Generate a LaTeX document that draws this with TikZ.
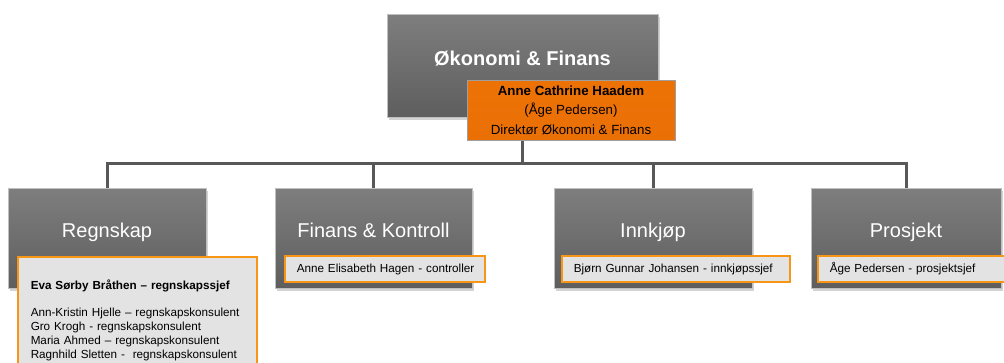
\documentclass[tikz,border=0pt]{standalone}
\usepackage{fontspec}
\setmainfont{Liberation Sans}
\usepackage{tikz}
\usetikzlibrary{positioning,shadows,backgrounds}
\definecolor{unittop}{RGB}{126,126,126}
\definecolor{unitbot}{RGB}{94,94,94}
\definecolor{dirorange}{RGB}{234,112,6}
\definecolor{infofill}{RGB}{227,227,227}
\definecolor{infoedge}{RGB}{246,150,20}
\definecolor{linkgray}{RGB}{88,88,88}

\begin{document}
\begin{tikzpicture}[x=1pt, y=-1pt,
    unit/.style={rectangle, draw=gray!50, line width=0.8pt, top color=unittop, bottom color=unitbot,
        drop shadow={shadow xshift=2pt, shadow yshift=-3pt, opacity=.35},
        text=white, inner sep=0pt, minimum width=198pt, minimum height=100pt,
        font=\fontsize{20}{24}\selectfont, text height=14pt, text depth=16pt},
    head/.style={unit, minimum width=271pt, minimum height=103pt,
        font=\fontsize{20}{24}\selectfont\bfseries, text height=14pt, text depth=14.6pt},
    director/.style={rectangle, draw=gray!75, line width=0.8pt, top color=dirorange!85!orange, bottom color=dirorange,
        text=black, align=center, inner sep=0pt, minimum width=208pt, minimum height=60pt,
        font=\fontsize{13.3}{19.5}\selectfont},
    staff/.style={rectangle, draw=infoedge, line width=1.5pt, fill=infofill, text=black,
        align=left, inner xsep=12pt, inner ysep=0pt, minimum height=26pt, anchor=west,
        font=\fontsize{11.7}{13.8}\selectfont},
    link/.style={draw=linkgray, line width=3pt}
]
\useasboundingbox (0,0) rectangle (1004,362);

\node (head) [head] at (522.5,65.5) {Økonomi \& Finans};
\node (dir) [director] at (571,110) {\textbf{Anne Cathrine Haadem}\\(Åge Pedersen)\\Direktør Økonomi \& Finans};

\node (reg) [unit] at (107,238) {Regnskap};
\node (fin) [unit, minimum width=197pt] at (373.5,238) {Finans \& Kontroll};
\node (inn) [unit] at (653,238) {Innkjøp};
\node (pro) [unit, minimum width=190pt] at (906,238) {Prosjekt};

\node (regstaff) [staff, anchor=north west, inner xsep=13pt, inner ysep=23pt, text width=213pt] at (17,256)
    {\textbf{Eva Sørby Bråthen – regnskapssjef}\\[13.8pt]
     Ann-Kristin Hjelle – regnskapskonsulent\\
     Gro Krogh - regnskapskonsulent\\
     Maria Ahmed – regnskapskonsulent\\
     Ragnhild Sletten -~ regnskapskonsulent};
\node (finstaff) [staff, text width=176pt] at (284,269) {\mbox{Anne Elisabeth Hagen - controller}};
\node (innstaff) [staff, text width=204pt] at (561,269) {\mbox{Bjørn Gunnar Johansen - innkjøpssjef}};
\node (prostaff) [staff, text width=176pt] at (817,269) {\mbox{Åge Pedersen - prosjektsjef}};

\coordinate (bus) at (522.5,163);
\begin{scope}[on background layer]
\draw[link] (head.south) -- (bus);
\draw[link] (bus) -| (reg.north);
\draw[link] (bus) -| (fin.north);
\draw[link] (bus) -| (inn.north);
\draw[link] (bus) -| (pro.north);
\end{scope}

\end{tikzpicture}
\end{document}
